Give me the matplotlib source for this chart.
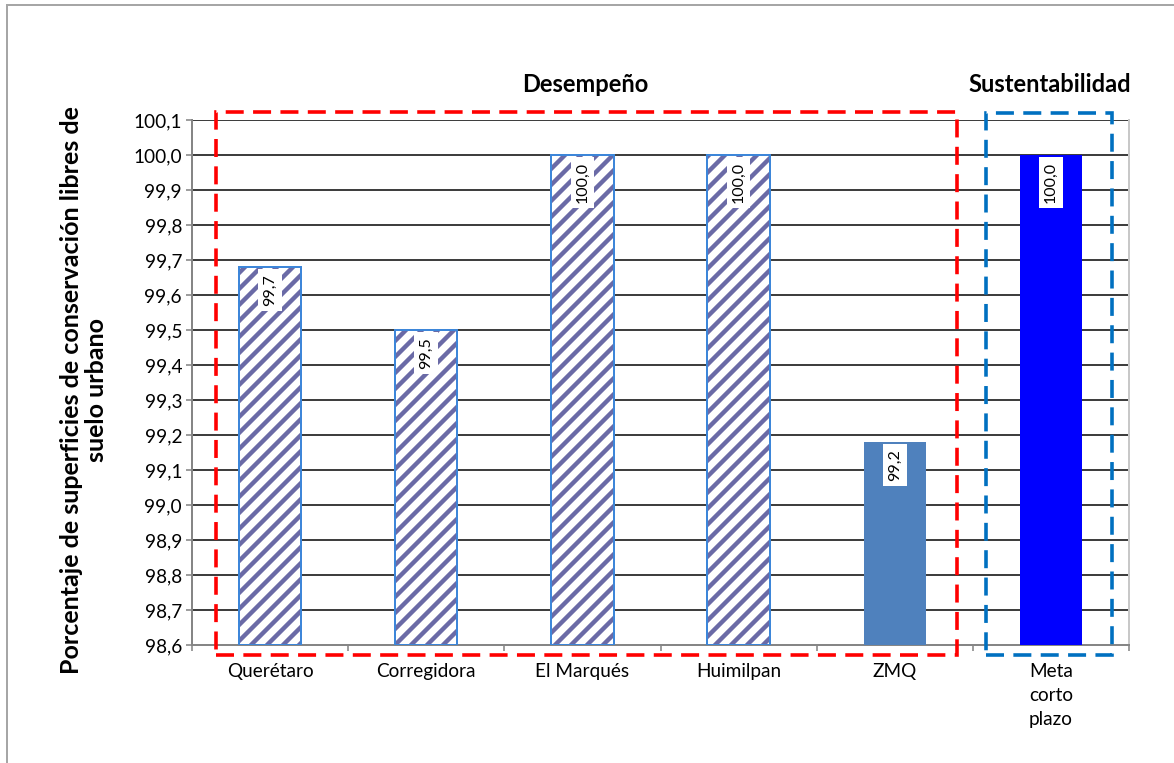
import matplotlib
matplotlib.use("Agg")
import matplotlib.pyplot as plt
import matplotlib.transforms as mtransforms
from matplotlib.patches import Rectangle
from matplotlib.ticker import FixedLocator, FuncFormatter

# Data
categories = ["Querétaro", "Corregidora", "El Marqués", "Huimilpan", "ZMQ", "Meta\ncorto\nplazo"]
values = [99.68, 99.50, 100.00, 100.00, 99.18, 100.00]
hatched = [True, True, True, True, False, False]
solid_colors = [None, None, None, None, "#4f81bd", "#0000ff"]
y_ticks = [98.6, 98.7, 98.8, 98.9, 99.0, 99.1, 99.2, 99.3, 99.4, 99.5,
           99.6, 99.7, 99.8, 99.9, 100.0, 100.1]
group_titles = ["Desempeño", "Sustentabilidad"]
ylabel_text = "Porcentaje de superficies de conservación libres de\nsuelo urbano"

DPI = 144
plt.rcParams["font.family"] = ["Lato", "DejaVu Sans"]
plt.rcParams["hatch.linewidth"] = 2.2

fig = plt.figure(figsize=(1174 / DPI, 763 / DPI), dpi=DPI)
ax = fig.add_axes([192 / 1174, 1 - 645 / 763, (1129 - 192) / 1174, (645 - 120) / 763])

ymin, ymax = 98.6, 100.1
x = list(range(len(categories)))
width = 0.4

for xi, v, h, c in zip(x, values, hatched, solid_colors):
    height = v - ymin
    if h:
        ax.bar(xi, height, width, bottom=ymin, color="white", edgecolor="#6a6aa6",
               hatch="///", linewidth=0, zorder=3)
        ax.bar(xi, height, width, bottom=ymin, fill=False, edgecolor="#3d86d9",
               linewidth=1.0, zorder=4)
    else:
        ax.bar(xi, height, width, bottom=ymin, color=c, linewidth=0, zorder=3)
    label = f"{v:.1f}".replace(".", ",")
    ax.annotate(label, xy=(xi, v), xytext=(0, -3.5), textcoords="offset points",
                rotation=90, ha="center", va="top", fontsize=8, color="black",
                bbox=dict(boxstyle="square,pad=0.3", fc="white", ec="none"),
                zorder=6)

ax.set_xlim(-0.5, len(categories) - 0.5)
ax.set_ylim(ymin, ymax)
ax.yaxis.set_major_locator(FixedLocator(y_ticks))
ax.yaxis.set_major_formatter(FuncFormatter(lambda v, p: f"{v:.1f}".replace(".", ",")))
ax.grid(axis="y", color="black", linewidth=0.75, zorder=0)
ax.set_axisbelow(True)

ax.set_xticks(x)
ax.set_xticklabels(categories, fontsize=9.5, linespacing=1.5, va="top")
ax.set_xticks([i - 0.5 for i in range(len(categories) + 1)], minor=True)
ax.tick_params(axis="x", which="major", length=0, pad=9)
ax.tick_params(axis="x", which="minor", length=3, color="#868686", width=0.8)
ax.tick_params(axis="y", length=3, color="#868686", width=0.8, pad=2, labelsize=9.5)

for side in ["left", "bottom"]:
    ax.spines[side].set_color("#868686")
    ax.spines[side].set_linewidth(1.0)
ax.spines["right"].set_color("#c8c8c8")
ax.spines["right"].set_linewidth(1.0)
ax.spines["top"].set_visible(False)

# Dashed group frames
dash = (0, (5, 2.6))
red_box = Rectangle((-0.346, 98.571), 4.398 + 0.346, 100.123 - 98.571, fill=False,
                    edgecolor="#ff0000", linewidth=1.8, linestyle=dash,
                    clip_on=False, zorder=7)
blue_box = Rectangle((4.584, 98.571), 5.391 - 4.584, 100.12 - 98.571, fill=False,
                     edgecolor="#0070c0", linewidth=1.8, linestyle=dash,
                     clip_on=False, zorder=7)
ax.add_patch(red_box)
ax.add_patch(blue_box)

trans = mtransforms.blended_transform_factory(ax.transData, fig.transFigure)
ax.text(2.02, 1 - 85 / 763, group_titles[0], transform=trans, ha="center",
        va="center", fontsize=11.8, fontweight="bold")
ax.text(4.99, 1 - 85 / 763, group_titles[1], transform=trans, ha="center",
        va="center", fontsize=11.8, fontweight="bold")

fig.text(84 / 1174, 1 - 390 / 763, ylabel_text, rotation=90, ha="center",
         va="center", multialignment="center", fontsize=12.5, fontweight="bold",
         linespacing=1.1)

# Outer frame
fig.patches.append(Rectangle((7 / 1174, -0.05), 1.2, 1 - 5 / 763 + 0.05,
                             transform=fig.transFigure, fill=False,
                             edgecolor="#a6a6a6", linewidth=1.0))

fig.savefig("out.png", dpi=DPI)
